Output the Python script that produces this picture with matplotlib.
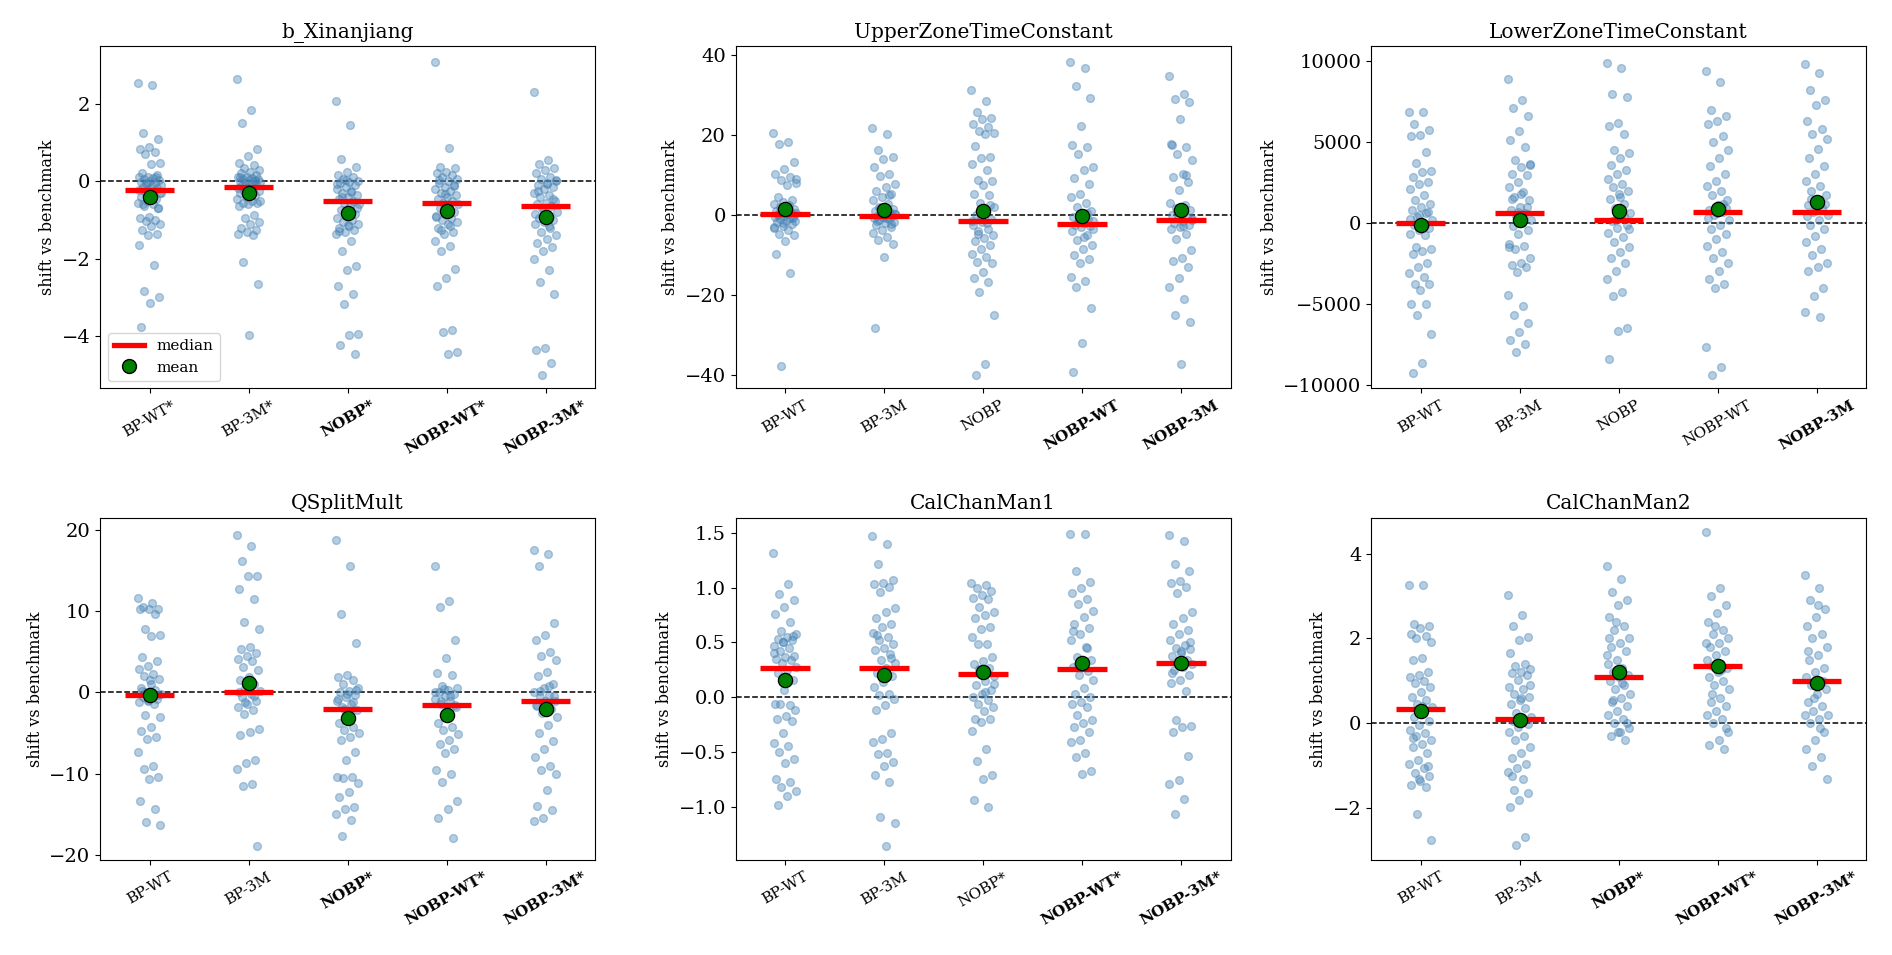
import numpy as np
import matplotlib
matplotlib.use("Agg")
import matplotlib.pyplot as plt
from matplotlib.lines import Line2D

plt.rcParams['font.family'] = ['DejaVu Serif']

# values, one list per group (5 groups per panel)
b_xin = [
    [2.54, 2.48, 1.25, 1.1, 0.88, 0.84, 0.75, 0.7, 0.47, 0.45, 0.2, 0.15, 0.12, 0.1, 0.08, 0.05, 0.03, 0.0,
     -0.02, -0.05, -0.08, -0.1, -0.12, -0.15, -0.18, -0.2, -0.22, -0.25, -0.28, -0.3, -0.35, -0.4, -0.45,
     -0.5, -0.55, -0.6, -0.65, -0.7, -0.92, -0.95, -1.0, -1.02, -1.1, -1.15, -1.27, -1.35, -1.4, -1.65,
     -2.17, -2.84, -3.0, -3.15, -3.77, 0.1, -0.05, -0.3, -0.45, -0.6, -0.68],
    [2.65, 1.85, 1.5, 0.82, 0.65, 0.47, 0.42, 0.35, 0.3, 0.25, 0.2, 0.15, 0.12, 0.1, 0.08, 0.05, 0.05, 0.02,
     0.0, 0.0, -0.02, -0.03, -0.06, -0.1, -0.1, -0.14, -0.18, -0.22, -0.25, -0.26, -0.3, -0.3, -0.35, -0.4,
     -0.45, -0.5, -0.55, -0.55, -0.6, -0.65, -0.88, -0.95, -1.05, -1.1, -1.2, -1.25, -1.3, -1.35, -1.4,
     -2.08, -2.65, -3.97, 0.12, 0.04, -0.2, -0.5],
    [2.07, 1.45, 0.58, 0.37, 0.25, 0.15, 0.1, 0.05, 0.0, -0.02, -0.05, -0.1, -0.15, -0.2, -0.25, -0.3, -0.35,
     -0.4, -0.45, -0.5, -0.55, -0.6, -0.65, -0.75, -0.85, -0.9, -0.95, -1.0, -1.05, -1.1, -1.15, -1.2, -1.25,
     -1.3, -1.35, -1.55, -1.8, -2.18, -2.28, -2.7, -2.9, -3.17, -3.95, -3.97, -4.22, -4.46, 0.02, -0.08,
     -0.28, -0.42, -0.7, -1.12, -1.28],
    [3.07, 0.87, 0.37, 0.35, 0.25, 0.2, 0.15, 0.1, 0.05, 0.0, -0.05, -0.1, -0.15, -0.2, -0.25, -0.3, -0.35,
     -0.4, -0.45, -0.5, -0.55, -0.6, -0.65, -0.7, -0.8, -0.85, -0.9, -0.95, -1.0, -1.05, -1.1, -1.2, -1.3,
     -1.35, -1.55, -1.67, -1.8, -2.27, -2.5, -2.7, -3.85, -3.9, -4.42, -4.45, 0.02, -0.12, -0.32, -0.92,
     -1.15, -1.25],
    [2.3, 0.55, 0.45, 0.35, 0.3, 0.2, 0.1, 0.05, 0.0, -0.05, -0.1, -0.15, -0.2, -0.3, -0.35, -0.4, -0.5,
     -0.55, -0.6, -0.65, -0.7, -0.8, -0.9, -0.95, -1.0, -1.05, -1.1, -1.2, -1.3, -1.4, -1.5, -1.6, -1.7,
     -1.8, -2.0, -2.3, -2.6, -2.9, -4.3, -4.35, -4.7, -5.0, 0.02, -0.08, -0.25, -0.45, -0.75, -0.85, -1.15],
]
upper_ztc = [
    [20.6, 18.3, 17.9, 13.3, 11.6, 10.4, 9.5, 8.8, 8.0, 7.5, 4.6, 3.7, 3.2, 2.8, 2.5, 2.0, 1.5, 1.2, 1.0,
     0.8, 0.6, 0.5, 0.2, 0.0, -0.2, -0.3, -0.5, -0.6, -1.0, -1.4, -1.5, -1.8, -2.2, -2.7, -3.2, -3.7, -4.6,
     -5.0, -6.5, -9.75, -14.4, -37.7, 9.0, 1.8, 0.4, -0.8, -2.0, -3.0],
    [21.7, 20.4, 16.2, 14.6, 14.0, 12.1, 10.4, 9.8, 7.9, 7.0, 6.0, 5.4, 4.5, 3.7, 2.8, 2.0, 1.5, 1.2, 1.0,
     0.8, 0.6, 0.3, 0.0, -0.2, -0.3, -0.5, -0.8, -1.0, -1.2, -1.6, -2.0, -2.5, -3.0, -3.7, -4.5, -5.5, -6.2,
     -7.3, -10.4, -28.3, 5.0, 1.8, 0.4, -0.6, -1.4, -2.2],
    [31.4, 28.6, 25.8, 24.4, 24.0, 22.7, 22.0, 21.0, 20.6, 20.2, 17.3, 14.6, 14.2, 12.9, 11.4, 8.75, 8.5,
     7.5, 5.4, 5.0, 3.0, 2.0, 1.0, 0.0, -1.0, -1.8, -2.5, -3.5, -4.6, -5.0, -5.8, -6.5, -7.5, -8.5, -9.6,
     -10.4, -11.6, -12.0, -14.2, -15.8, -16.7, -19.2, -25.0, -37.1, -40.0, 2.5, -0.5, -1.5, -2.0, -4.0],
    [38.3, 36.8, 32.3, 29.3, 22.3, 17.5, 17.1, 15.4, 12.1, 11.3, 9.2, 7.9, 5.4, 4.6, 3.0, 2.0, 1.0, 0.0,
     -0.5, -1.0, -1.2, -1.5, -2.0, -2.5, -2.8, -3.0, -4.0, -5.0, -6.2, -7.5, -8.5, -10.0, -11.0, -12.0,
     -15.4, -16.5, -17.9, -23.3, -32.0, -39.3, 0.5, -1.8, -3.5, -5.5],
    [34.9, 30.2, 29.1, 28.2, 24.0, 17.9, 17.1, 15.4, 13.8, 10.4, 9.5, 8.3, 6.25, 3.0, 2.5, 1.8, 1.25, 0.5,
     0.0, -0.5, -0.8, -1.0, -1.5, -2.0, -2.5, -3.0, -3.5, -4.6, -6.0, -8.75, -10.8, -11.5, -12.9, -15.8,
     -17.9, -21.0, -25.0, -26.7, -37.2, 17.5, 10.0, 1.0, -1.2, -2.8],
]
lower_ztc = [
    [6840, 6840, 6100, 5770, 5420, 5350, 4390, 3730, 3200, 3150, 2840, 2530, 2430, 2120, 1710, 1400, 1190,
     990, 800, 600, 370, 165, 0, -150, -300, -450, -660, -760, -1480, -1600, -1750, -1900, -2510, -2720,
     -3090, -3340, -3750, -3800, -4160, -4990, -5000, -5700, -6900, -8690, -9310, 700, 500, 250, -100],
    [8880, 7620, 7130, 6590, 5690, 5150, 4700, 3910, 3670, 3460, 3050, 2950, 2530, 2220, 1900, 1600, 1400,
     990, 800, 600, 400, 200, 0, -200, -450, -660, -1280, -1450, -1590, -2200, -2450, -2600, -2720, -3030,
     -4430, -5110, -5700, -6180, -6740, -7250, -7460, -7970, 3600, 1800, 1500, 1000, 700, -1500],
    [9900, 9600, 8000, 7800, 6200, 6000, 5500, 4500, 4300, 4000, 3600, 3300, 3000, 2700, 2400, 2200, 2000,
     1800, 1500, 1200, 900, 600, 300, 100, -100, -300, -600, -900, -1200, -1500, -1800, -2200, -2500,
     -3000, -3500, -4300, -4500, -6500, -6700, -8400, 400, 200, -400, 1600],
    [9400, 8700, 7000, 6600, 6300, 6100, 5400, 5000, 4500, 4000, 3500, 3000, 2600, 2300, 2000, 1700, 1400,
     1100, 800, 650, 500, 200, -100, -400, -700, -1000, -1400, -1800, -2200, -2500, -3000, -3500, -3800,
     -4000, -7700, -8900, -9400, 900, 600, 300, 1200],
    [9800, 9300, 8200, 7600, 7300, 6300, 5800, 5500, 5200, 4600, 4000, 3500, 3000, 2600, 2300, 2000, 1700,
     1400, 1100, 900, 700, 500, 200, -100, -400, -800, -1200, -1600, -2000, -2500, -2700, -3000, -4000,
     -4500, -5500, -5800, 1500, 1200, 800, 400],
]
qsplit = [
    [11.6, 11.0, 10.5, 10.3, 10.2, 10.2, 9.6, 7.8, 7.1, 6.9, 4.3, 3.9, 3.2, 2.9, 2.3, 2.0, 1.6, 1.5, 0.6,
     0.3, 0.0, -0.2, -0.4, -0.6, -0.8, -1.0, -1.2, -1.4, -2.8, -3.0, -4.3, -4.7, -5.5, -5.7, -7.3, -9.1,
     -9.4, -10.4, -10.7, -13.3, -14.3, -15.9, -16.3, 1.0, 0.2, -0.3, -0.9],
    [19.4, 18.0, 16.2, 14.3, 14.3, 12.7, 11.5, 8.7, 7.8, 5.6, 5.4, 4.9, 4.5, 4.1, 3.9, 3.1, 2.7, 1.9, 1.5,
     1.0, 0.6, 0.2, -0.2, -0.6, -1.0, -1.4, -1.8, -2.2, -2.6, -4.5, -4.9, -5.2, -8.3, -8.7, -9.4, -11.2,
     -11.5, -18.9, 0.8, 0.0, -0.4, -1.2],
    [18.7, 15.6, 9.7, 6.1, 2.1, 1.9, 1.5, 1.0, 0.5, 0.2, 0.0, -0.3, -0.6, -1.0, -1.4, -1.8, -2.2, -2.6,
     -3.8, -4.2, -4.6, -5.0, -5.5, -5.9, -7.3, -8.3, -10.4, -10.4, -10.5, -11.1, -12.2, -12.8, -14.1,
     -14.3, -15.0, -15.7, -17.7, 0.3, -0.2, -0.8, -1.2, -2.0],
    [15.6, 11.3, 10.5, 6.5, 4.2, 2.4, 2.1, 0.8, 0.6, 0.3, 0.1, -0.2, -0.5, -0.8, -1.1, -1.4, -1.8, -2.2,
     -3.8, -4.2, -4.6, -5.1, -5.9, -6.3, -6.9, -7.5, -9.5, -10.0, -11.0, -13.3, -14.3, -15.4, -17.9, 0.4,
     0.0, -0.4, -1.0, -1.6],
    [17.5, 17.0, 15.5, 8.5, 7.0, 6.5, 5.0, 4.5, 4.0, 2.5, 2.0, 1.0, 0.5, 0.0, -0.3, -0.6, -1.0, -1.3,
     -1.7, -2.0, -2.5, -3.0, -4.0, -5.0, -6.0, -7.0, -8.0, -9.0, -9.5, -10.0, -12.0, -14.0, -14.5, -15.5,
     -15.8, 0.8, 0.2, -0.5, -1.0, -1.5],
]
chan1 = [
    [1.32, 1.03, 0.94, 0.89, 0.82, 0.76, 0.69, 0.6, 0.58, 0.55, 0.53, 0.52, 0.5, 0.47, 0.45, 0.42, 0.38,
     0.37, 0.35, 0.34, 0.31, 0.28, 0.25, 0.22, 0.16, 0.07, -0.06, -0.07, -0.06, -0.12, -0.17, -0.2, -0.22,
     -0.33, -0.42, -0.45, -0.5, -0.56, -0.6, -0.75, -0.77, -0.82, -0.86, -0.9, -0.98, 0.56, 0.5, 0.4],
    [1.47, 1.40, 1.22, 1.07, 1.04, 1.03, 1.01, 0.96, 0.81, 0.78, 0.72, 0.67, 0.64, 0.59, 0.55, 0.52, 0.49,
     0.45, 0.43, 0.39, 0.34, 0.31, 0.27, 0.22, 0.19, 0.14, 0.09, 0.03, 0.02, -0.02, -0.07, -0.12, -0.33,
     -0.38, -0.41, -0.51, -0.52, -0.59, -0.63, -0.71, -0.77, -1.09, -1.15, -1.36, 0.57, 0.36],
    [1.04, 1.02, 1.0, 0.97, 0.93, 0.91, 0.9, 0.82, 0.78, 0.75, 0.72, 0.64, 0.62, 0.55, 0.49, 0.49, 0.37,
     0.33, 0.3, 0.27, 0.22, 0.19, 0.15, 0.11, 0.07, 0.03, 0.0, -0.03, -0.06, -0.09, -0.13, -0.2, -0.2,
     -0.23, -0.31, -0.47, -0.58, -0.71, -0.75, -0.94, -1.0, 0.26, 0.12, 0.05],
    [1.49, 1.49, 1.15, 1.05, 1.0, 0.95, 0.9, 0.85, 0.79, 0.73, 0.67, 0.63, 0.58, 0.52, 0.46, 0.37, 0.34,
     0.31, 0.28, 0.24, 0.2, 0.16, 0.08, 0.03, 0.0, -0.04, -0.06, -0.09, -0.16, -0.21, -0.24, -0.27, -0.32,
     -0.39, -0.41, -0.51, -0.55, -0.67, -0.7, 0.6, 0.45, 0.3],
    [1.48, 1.43, 1.22, 1.15, 1.06, 1.04, 1.01, 0.95, 0.78, 0.72, 0.67, 0.61, 0.58, 0.52, 0.48, 0.45, 0.44,
     0.4, 0.38, 0.34, 0.31, 0.3, 0.28, 0.25, 0.2, 0.16, 0.13, 0.06, -0.21, -0.26, -0.27, -0.32, -0.54,
     -0.76, -0.79, -0.93, -1.07, 0.5, 0.42, 0.22],
]
chan2 = [
    [3.25, 3.25, 2.35, 2.3, 2.25, 2.1, 2.05, 2.0, 1.92, 1.53, 1.49, 1.2, 1.15, 1.1, 1.0, 0.95, 0.86, 0.75,
     0.63, 0.55, 0.45, 0.38, 0.3, 0.16, 0.05, -0.05, -0.15, -0.23, -0.3, -0.4, -0.48, -0.55, -0.7, -0.86,
     -0.95, -1.05, -1.18, -1.25, -1.35, -1.45, -1.5, -2.13, -2.75, 0.42, -0.35, -1.0, -1.3],
    [3.02, 2.56, 2.3, 2.04, 1.96, 1.65, 1.41, 1.35, 1.28, 1.2, 1.18, 1.14, 1.02, 0.86, 0.8, 0.7, 0.63, 0.55,
     0.45, 0.35, 0.25, 0.16, 0.12, 0.05, -0.02, -0.08, -0.2, -0.3, -0.4, -0.55, -0.7, -0.82, -0.95, -1.05,
     -1.15, -1.3, -1.57, -1.65, -1.8, -1.96, -2.67, -2.86, 0.9, 0.6, -1.25],
    [3.7, 3.4, 3.1, 2.9, 2.8, 2.5, 2.3, 2.2, 2.0, 1.9, 1.8, 1.7, 1.5, 1.4, 1.3, 1.2, 1.15, 1.1, 1.0, 0.9,
     0.8, 0.7, 0.6, 0.5, 0.4, 0.3, 0.2, 0.1, 0.0, -0.1, -0.2, -0.3, -0.4, 2.4, 1.6, 0.95, 0.55, 0.0,
     -0.2, 2.0],
    [4.5, 3.2, 3.0, 2.8, 2.6, 2.4, 2.2, 2.1, 2.0, 1.9, 1.8, 1.7, 1.6, 1.5, 1.4, 1.35, 1.3, 1.2, 1.1, 1.0,
     0.9, 0.8, 0.6, 0.5, 0.4, 0.3, 0.2, 0.1, 0.0, -0.2, -0.4, -0.5, -0.6, 2.3, 1.9, 1.25, 0.7, -0.1],
    [3.5, 3.2, 2.9, 2.7, 2.5, 2.3, 2.1, 2.0, 1.8, 1.6, 1.5, 1.3, 1.2, 1.1, 1.0, 0.9, 0.8, 0.7, 0.5, 0.4,
     0.3, 0.2, 0.1, 0.0, -0.2, -0.4, -0.6, -0.8, -1.0, -1.3, 2.8, 1.7, 1.0, 0.6, 0.2, -0.1],
]

medians = [
    [-0.23, -0.15, -0.52, -0.57, -0.65],
    [0.2, -0.2, -1.5, -2.2, -1.2],
    [0, 600, 200, 650, 700],
    [-0.3, 0.1, -2.0, -1.6, -1.0],
    [0.27, 0.27, 0.21, 0.26, 0.31],
    [0.33, 0.1, 1.1, 1.35, 1.0],
]
means = [
    [-0.4, -0.3, -0.83, -0.78, -0.92],
    [1.5, 1.2, 1.0, -0.2, 1.3],
    [-150, 200, 750, 850, 1300],
    [-0.3, 1.1, -3.2, -2.8, -2.0],
    [0.16, 0.2, 0.23, 0.31, 0.31],
    [0.3, 0.07, 1.2, 1.35, 0.95],
]

titles = ["b_Xinanjiang", "UpperZoneTimeConstant", "LowerZoneTimeConstant",
          "QSplitMult", "CalChanMan1", "CalChanMan2"]
tick_labels = [
    ["BP-WT*", "BP-3M*", "NOBP*", "NOBP-WT*", "NOBP-3M*"],
    ["BP-WT", "BP-3M", "NOBP", "NOBP-WT", "NOBP-3M"],
    ["BP-WT", "BP-3M", "NOBP", "NOBP-WT", "NOBP-3M"],
    ["BP-WT", "BP-3M", "NOBP*", "NOBP-WT*", "NOBP-3M*"],
    ["BP-WT", "BP-3M", "NOBP*", "NOBP-WT*", "NOBP-3M*"],
    ["BP-WT", "BP-3M", "NOBP*", "NOBP-WT*", "NOBP-3M*"],
]
bold_labels = [
    [False, False, True, True, True],
    [False, False, False, True, True],
    [False, False, False, False, True],
    [False, False, True, True, True],
    [False, False, False, True, True],
    [False, False, True, True, True],
]
ylims = [(-5.35, 3.49), (-43.3, 42.3), (-10240, 10940), (-20.6, 21.5), (-1.486, 1.64), (-3.22, 4.85)]
yticks = [[-4, -2, 0, 2], [-40, -20, 0, 20, 40], [-10000, -5000, 0, 5000, 10000],
          [-20, -10, 0, 10, 20], [-1.0, -0.5, 0.0, 0.5, 1.0, 1.5], [-2, 0, 2, 4]]

panels = [b_xin, upper_ztc, lower_ztc, qsplit, chan1, chan2]

fig, axes = plt.subplots(2, 3, figsize=(18.92, 9.55), dpi=100)
fig.subplots_adjust(left=0.0529, right=0.9863, bottom=0.0995, top=0.9518, wspace=0.284, hspace=0.377)

for k, ax in enumerate(axes.flat):
    groups = panels[k]
    ax.axhline(0, color='black', ls='--', lw=1.1, zorder=1)
    for i, vals in enumerate(groups):
        vals = np.asarray(vals, dtype=float)
        # simple even jitter so points don't stack
        jit = ((np.arange(len(vals)) * 0.618034) % 1.0 - 0.5) * 0.24
        ax.scatter(i + jit, vals, s=32, color='#4682b4', alpha=0.4,
                   edgecolors='#4682b4', linewidths=1.0, zorder=2)
        ax.hlines(medians[k][i], i - 0.25, i + 0.25, color='red', lw=3.8, zorder=3)
        ax.scatter([i], [means[k][i]], s=105, color='green', edgecolors='black',
                   linewidths=0.9, zorder=4)
    ax.set_xlim(-0.5, 4.5)
    ax.set_ylim(*ylims[k])
    ax.set_yticks(yticks[k])
    ax.set_xticks(range(5))
    ax.set_xticklabels(tick_labels[k], rotation=30, ha='center', fontsize=11)
    for lab, b in zip(ax.get_xticklabels(), bold_labels[k]):
        if b:
            lab.set_fontweight('bold')
    ax.tick_params(axis='y', labelsize=14)
    ax.set_title(titles[k], fontsize=14.5)
    ax.set_ylabel("shift vs benchmark", fontsize=11.5)

handles = [Line2D([], [], color='red', lw=3.8, label='median'),
           Line2D([], [], marker='o', ls='none', markerfacecolor='green', markeredgecolor='black',
                  markersize=10, label='mean')]
axes[0, 0].legend(handles=handles, loc='lower left', fontsize=11)

fig.savefig("out.png", dpi=100)
